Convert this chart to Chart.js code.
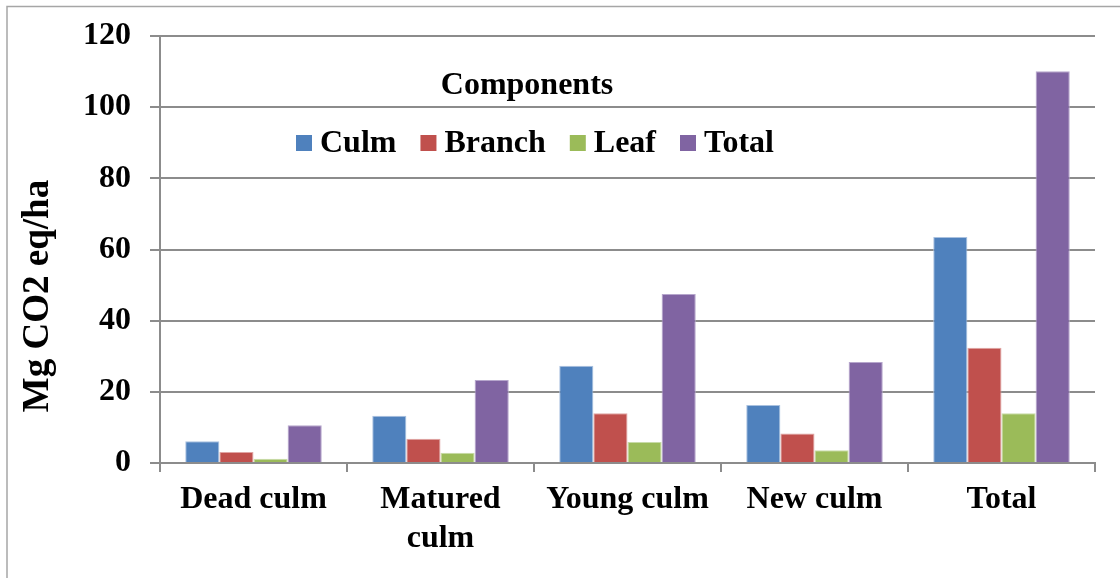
<!DOCTYPE html>
<html><head><meta charset="utf-8">
<script src="https://cdn.jsdelivr.net/npm/chart.js@4/dist/chart.umd.min.js"></script>
<style>html,body{margin:0;padding:0;background:#fff;} #wrap{position:relative;width:1120px;height:578px;}</style>
</head><body><div id="wrap"><canvas id="c"></canvas></div>
<script>
const categories = [['Dead culm'], ['Matured', 'culm'], ['Young culm'], ['New culm'], ['Total']];
const seriesNames = ['Culm', 'Branch', 'Leaf', 'Total'];
const culmValues = [6.1, 13.3, 27.3, 16.3, 63.5];
const branchValues = [3.1, 6.8, 14.0, 8.3, 32.4];
const leafValues = [1.2, 2.9, 5.9, 3.6, 14.0];
const totalValues = [10.6, 23.3, 47.5, 28.4, 110.1];
const yTickValues = [0, 20, 40, 60, 80, 100, 120];
const yTitle = 'Mg CO2 eq/ha';
const legendTitle = 'Components';

const fills = ['#4F81BD', '#C0504D', '#9BBB59', '#8064A2'];
const edges = ['#a9c1df', '#e0a5a4', '#c8dba8', '#b6a6cc'];
const FONT = "'Liberation Serif', 'Times New Roman', serif";
const seriesValues = [culmValues, branchValues, leafValues, totalValues];

const decor = {
  id: 'decor',
  beforeDraw(chart) {
    const ctx = chart.ctx;
    ctx.save();
    ctx.strokeStyle = '#a6a6a6';
    ctx.lineWidth = 1.5;
    ctx.beginPath();
    ctx.moveTo(7, 578); ctx.lineTo(7, 6.5); ctx.lineTo(1120, 6.5);
    ctx.stroke();
    ctx.restore();
  },
  afterDraw(chart) {
    const ctx = chart.ctx;
    ctx.save();
    ctx.fillStyle = '#000';
    // y title
    ctx.save();
    ctx.translate(38, 296);
    ctx.rotate(-Math.PI / 2);
    ctx.font = 'bold 37px ' + FONT;
    ctx.textAlign = 'center';
    ctx.textBaseline = 'middle';
    ctx.fillText(yTitle, 0, 0);
    ctx.restore();
    // legend title
    ctx.font = 'bold 32px ' + FONT;
    ctx.textAlign = 'center';
    ctx.textBaseline = 'alphabetic';
    ctx.fillText(legendTitle, 527, 94);
    // legend items
    ctx.textAlign = 'left';
    let x = 296;
    chart.data.datasets.forEach((ds) => {
      ctx.fillStyle = ds.backgroundColor;
      ctx.fillRect(x, 135, 16, 16);
      x += 24;
      ctx.fillStyle = '#000';
      ctx.fillText(ds.label, x, 152);
      x += ctx.measureText(ds.label).width + 24;
    });
    ctx.restore();
  }
};

new Chart(document.getElementById('c'), {
  type: 'bar',
  data: {
    labels: categories,
    datasets: seriesNames.map((name, i) => ({
      label: name,
      data: seriesValues[i],
      backgroundColor: fills[i],
      borderColor: edges[i],
      borderWidth: 1,
      barPercentage: 1,
      categoryPercentage: 0.73
    }))
  },
  options: {
    responsive: true,
    maintainAspectRatio: false,
    animation: false,
    devicePixelRatio: 1,
    layout: { padding: { top: 36, right: 25, left: 0, bottom: 0 } },
    plugins: { legend: { display: false }, tooltip: { enabled: false }, title: { display: false } },
    scales: {
      x: {
        afterFit(s) { s.height = 115; s.paddingLeft = 0; s.paddingRight = 0; },
        grid: { display: true, drawOnChartArea: false, offset: true, tickLength: 9, color: '#8c8c8c', lineWidth: 2 },
        border: { color: '#8c8c8c', width: 2 },
        ticks: { color: '#000', font: { family: FONT, size: 32, weight: 'bold', lineHeight: 1.2 }, padding: 9, maxRotation: 0, autoSkip: false }
      },
      y: {
        min: 0, max: 120,
        afterFit(s) { s.width = 160; s.paddingTop = 0; s.paddingBottom = 0; },
        afterBuildTicks(s) { s.ticks = yTickValues.map(v => ({ value: v })); },
        grid: { color: '#8c8c8c', lineWidth: 2, tickLength: 10 },
        border: { color: '#8c8c8c', width: 2 },
        ticks: { color: '#000', font: { family: FONT, size: 32, weight: 'bold' }, padding: 19 }
      }
    }
  },
  plugins: [decor]
});
</script></body></html>
